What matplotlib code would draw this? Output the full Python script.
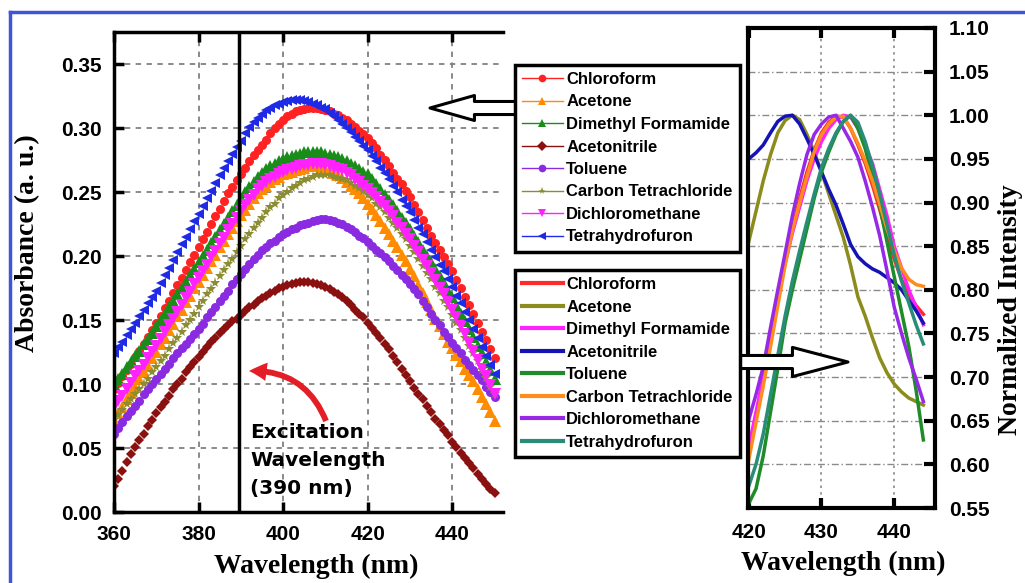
import matplotlib
matplotlib.use('Agg')
import matplotlib.pyplot as plt
from matplotlib.lines import Line2D
from matplotlib.patches import FancyArrowPatch
from matplotlib.ticker import FormatStrFormatter

plt.rcParams['font.family'] = ['Liberation Sans', 'DejaVu Sans']
plt.rcParams['font.weight'] = 'bold'

solvents = ['Chloroform', 'Acetone', 'Dimethyl Formamide', 'Acetonitrile',
            'Toluene', 'Carbon Tetrachloride', 'Dichloromethane', 'Tetrahydrofuron']

# absorbance spectra, 360-450 nm every 1 nm
wl_abs = list(range(360, 451))

abs_chl = [.096, .101, .106, .111, .116, .121, .126, .131, .137, .142,
           .148, .153, .159, .165, .171, .177, .183, .189, .195, .201,
           .207, .213, .219, .225, .231, .237, .243, .249, .254, .259,
           .264, .269, .274, .279, .283, .287, .291, .296, .300, .303,
           .306, .309, .311, .313, .314, .315, .316, .316, .316, .315,
           .314, .313, .311, .310, .308, .306, .303, .301, .298, .295,
           .292, .288, .284, .279, .275, .270, .265, .260, .256, .251,
           .246, .240, .234, .228, .222, .216, .210, .205, .199, .194,
           .188, .181, .175, .168, .162, .155, .148, .141, .134, .127,
           .120]
abs_ace = [.072, .077, .082, .088, .093, .098, .104, .109, .114, .120,
           .125, .131, .136, .142, .147, .153, .158, .164, .169, .175,
           .180, .185, .191, .196, .201, .207, .212, .217, .222, .227,
           .232, .236, .241, .245, .249, .252, .255, .258, .260, .262,
           .264, .265, .266, .267, .268, .269, .270, .270, .270, .269,
           .268, .267, .265, .263, .261, .258, .255, .252, .249, .245,
           .241, .237, .232, .227, .222, .217, .212, .207, .201, .196,
           .190, .184, .177, .171, .164, .158, .151, .145, .139, .133,
           .128, .123, .118, .112, .107, .102, .096, .090, .084, .078,
           .071]
abs_dmf = [.100, .104, .108, .113, .117, .122, .126, .131, .135, .140,
           .145, .150, .155, .160, .165, .170, .175, .180, .185, .190,
           .195, .200, .205, .210, .215, .220, .225, .230, .235, .240,
           .245, .250, .254, .258, .262, .265, .268, .270, .272, .274,
           .276, .277, .278, .279, .280, .281, .281, .281, .281, .281,
           .280, .279, .278, .277, .276, .274, .272, .270, .268, .266,
           .264, .260, .256, .252, .248, .244, .240, .235, .230, .226,
           .221, .216, .211, .205, .200, .195, .190, .184, .179, .173,
           .168, .162, .155, .149, .143, .137, .130, .124, .117, .111,
           .104]
abs_acn = [.020, .026, .032, .039, .045, .051, .056, .061, .067, .072,
           .077, .082, .086, .091, .096, .100, .104, .109, .113, .117,
           .121, .125, .129, .133, .136, .140, .143, .146, .149, .151,
           .154, .157, .160, .162, .165, .167, .169, .171, .173, .175,
           .176, .177, .178, .179, .180, .180, .180, .179, .178, .177,
           .176, .174, .172, .170, .168, .165, .162, .158, .155, .152,
           .148, .144, .140, .136, .131, .127, .122, .117, .112, .107,
           .102, .097, .092, .088, .083, .078, .073, .069, .064, .060,
           .055, .051, .046, .042, .038, .034, .030, .026, .022, .018,
           .015]
abs_tol = [.061, .066, .070, .075, .079, .083, .087, .092, .096, .100,
           .104, .108, .112, .116, .120, .124, .128, .131, .135, .139,
           .143, .147, .152, .156, .160, .165, .169, .173, .178, .182,
           .186, .190, .194, .198, .201, .205, .207, .210, .212, .215,
           .217, .219, .221, .222, .224, .225, .226, .227, .228, .229,
           .229, .228, .227, .226, .225, .223, .221, .219, .216, .214,
           .211, .208, .205, .202, .199, .196, .192, .189, .185, .182,
           .178, .174, .170, .165, .160, .155, .150, .146, .141, .137,
           .132, .128, .124, .119, .115, .111, .107, .103, .098, .094,
           .090]
abs_ccl = [.072, .076, .080, .084, .088, .092, .096, .100, .104, .109,
           .113, .118, .122, .127, .132, .136, .141, .146, .150, .155,
           .160, .165, .170, .174, .179, .184, .189, .194, .198, .203,
           .208, .213, .217, .222, .226, .230, .234, .238, .241, .245,
           .248, .250, .253, .255, .257, .259, .260, .262, .263, .263,
           .263, .263, .262, .261, .260, .259, .257, .255, .253, .251,
           .248, .245, .241, .238, .234, .230, .226, .222, .217, .213,
           .208, .203, .198, .192, .187, .182, .176, .171, .165, .160,
           .154, .148, .142, .136, .130, .124, .118, .111, .105, .098,
           .092]
abs_dcm = [.082, .087, .091, .096, .101, .106, .110, .115, .120, .125,
           .130, .135, .141, .146, .151, .156, .162, .167, .172, .178,
           .183, .188, .193, .199, .204, .209, .214, .220, .225, .230,
           .235, .240, .244, .248, .252, .255, .258, .260, .262, .264,
           .266, .267, .268, .269, .270, .271, .271, .272, .272, .272,
           .271, .270, .269, .268, .267, .265, .263, .260, .258, .255,
           .252, .249, .246, .242, .239, .235, .231, .226, .222, .217,
           .213, .208, .203, .197, .192, .187, .181, .175, .170, .164,
           .158, .152, .145, .139, .132, .126, .119, .112, .106, .099,
           .092]
abs_thf = [.124, .129, .133, .138, .143, .148, .153, .158, .163, .168,
           .173, .179, .185, .191, .197, .203, .209, .215, .221, .227,
           .233, .239, .245, .251, .257, .263, .269, .274, .280, .285,
           .290, .296, .301, .305, .308, .311, .314, .316, .318, .319,
           .320, .321, .322, .322, .322, .321, .320, .319, .318, .316,
           .315, .312, .309, .306, .303, .300, .297, .293, .290, .286,
           .283, .278, .274, .269, .265, .260, .255, .250, .244, .239,
           .234, .228, .222, .217, .211, .205, .199, .193, .188, .182,
           .176, .169, .163, .156, .150, .143, .136, .129, .122, .115,
           .108]

# normalized emission, 420-444 nm
wl_em = list(range(420, 445))
em_chl = [.615, .655, .700, .745, .790, .832, .870, .905, .935, .960, .980, .992, .999,
          .998, .985, .966, .945, .920, .892, .862, .835, .812, .795, .782, .772]
em_ace = [.855, .890, .925, .955, .980, .994, 1.000, .995, .978, .958, .935, .910, .885,
          .860, .828, .792, .770, .745, .722, .705, .692, .683, .676, .672, .668]
em_dmf = [.620, .660, .700, .745, .790, .830, .865, .895, .925, .950, .970, .985, .995,
          1.000, .998, .985, .965, .945, .915, .885, .850, .825, .800, .780, .760]
em_acn = [.950, .957, .966, .980, .993, .999, 1.000, .990, .973, .955, .935, .915, .897,
          .875, .852, .838, .830, .824, .820, .814, .808, .800, .788, .776, .762]
em_tol = [.555, .572, .610, .660, .710, .762, .800, .835, .870, .905, .935, .958, .978,
          .993, 1.000, .985, .962, .930, .896, .855, .815, .775, .735, .685, .628]
em_ccl = [.605, .648, .690, .735, .782, .828, .868, .900, .930, .958, .978, .990, .998,
          .999, .985, .968, .948, .925, .898, .870, .845, .825, .812, .806, .804]
em_dcm = [.651, .680, .712, .757, .800, .842, .885, .922, .955, .978, .990, .998, 1.000,
          .985, .970, .952, .925, .895, .862, .822, .780, .750, .722, .698, .672]
em_thf = [.575, .600, .635, .680, .725, .770, .810, .845, .878, .910, .940, .962, .980,
          .993, 1.000, .992, .970, .942, .910, .875, .840, .810, .785, .760, .738]

abs_data = [abs_chl, abs_ace, abs_dmf, abs_acn, abs_tol, abs_ccl, abs_dcm, abs_thf]
em_data = [em_chl, em_ace, em_dmf, em_acn, em_tol, em_ccl, em_dcm, em_thf]

abs_colors = ['#ff2222', '#ff8c00', '#1a8c1a', '#8b1010', '#8a2be2', '#8c8c32', '#ff22ff', '#1e2ae6']
abs_markers = ['o', '^', '^', 'D', 'o', '*', 'v', '<']
abs_ms = [6.5, 8, 8, 5.5, 6.5, 8, 8, 7.5]
em_colors = ['#ff2a2a', '#8c8c1e', '#ff22ff', '#1414b4', '#1e8c28', '#ff8c1e', '#9628e6', '#288c78']

W, H = 1025, 583


def fx(px):
    return px / W


def fy(py):
    return 1 - py / H


fig = plt.figure(figsize=(10.25, 5.83), dpi=100)
ax1 = fig.add_axes([fx(114), fy(512), 389 / W, 480 / H])
ax2 = fig.add_axes([fx(748), fy(508), 187 / W, 480 / H])

# ---- absorbance panel ----
for y, c, m, s in zip(abs_data, abs_colors, abs_markers, abs_ms):
    ax1.plot(wl_abs, y, linestyle='none', marker=m, ms=s, color=c, mew=0)
ax1.axvline(389.5, color='black', lw=2.5)

ax1.set_xlim(360, 452)
ax1.set_ylim(0, 0.375)
ax1.set_xticks([360, 380, 400, 420, 440])
ax1.set_yticks([0, .05, .10, .15, .20, .25, .30, .35])
ax1.yaxis.set_major_formatter(FormatStrFormatter('%.2f'))
ax1.set_axisbelow(True)
ax1.grid(True, color='#808080', linestyle=(0, (3, 3)), lw=1.3)
ax1.spines['right'].set_visible(False)
for sp in ['left', 'top', 'bottom']:
    ax1.spines[sp].set_linewidth(2.5)
ax1.tick_params(axis='both', direction='in', length=7, width=2.5, top=True,
                right=False, labelsize=15, pad=9)

serif = dict(fontfamily='Liberation Serif', fontsize=20, fontweight='bold')
ax1.set_xlabel('Wavelength (nm)', va='center', **serif)
ax1.xaxis.set_label_coords((316 - 114) / 389, (512 - 566) / 480)
ax1.set_ylabel('Absorbance (a. u.)', va='center', **serif)
ax1.yaxis.set_label_coords((28 - 114) / 389, (512 - 243) / 480)

# ---- emission panel ----
for y, c in zip(em_data, em_colors):
    ax2.plot(wl_em, y, color=c, lw=2.5)

ax2.set_xlim(419.9, 445.6)
ax2.set_ylim(0.55, 1.10)
ax2.set_xticks([420, 430, 440])
ax2.set_yticks([.55, .60, .65, .70, .75, .80, .85, .90, .95, 1.00, 1.05, 1.10])
ax2.yaxis.set_major_formatter(FormatStrFormatter('%.2f'))
ax2.set_axisbelow(True)
ax2.grid(axis='y', color='#8a8a8a', linestyle=(0, (5, 2, 1, 2)), lw=1.0)
ax2.grid(axis='x', color='#8a8a8a', linestyle=(0, (1.5, 2.5)), lw=1.2)
for sp in ax2.spines.values():
    sp.set_linewidth(3)
ax2.yaxis.tick_right()
ax2.tick_params(axis='y', direction='in', left=False, right=True, length=8,
                width=3, labelsize=15, pad=10)
ax2.tick_params(axis='x', direction='in', top=True, bottom=True, length=7,
                width=3, labelsize=15, pad=11)
ax2.set_xlabel('Wavelength (nm)', va='center', **serif)
ax2.xaxis.set_label_coords((843 - 748) / 187, (508 - 563) / 480)
ax2.yaxis.set_label_position('right')
ax2.set_ylabel('Normalized Intensity', rotation=90, va='center', **serif)
ax2.yaxis.set_label_coords((1011 - 748) / 187, (508 - 310) / 480)

# ---- legends ----
h1 = [Line2D([0], [0], color=c, marker=m, ms=5.5, lw=1, mew=0)
      for c, m in zip(abs_colors, abs_markers)]
h2 = [Line2D([0], [0], color=c, lw=3) for c in em_colors]
leg_kw = dict(loc='upper left', borderaxespad=0, fontsize=12, frameon=True,
              fancybox=False, edgecolor='black', framealpha=1,
              labelspacing=0.45, handlelength=2.45, handletextpad=0.2, borderpad=0.42)
leg1 = fig.legend(h1, solvents, bbox_to_anchor=(fx(515), fy(65)), **leg_kw)
leg2 = fig.legend(h2, solvents, bbox_to_anchor=(fx(515), fy(270)), **leg_kw)
for lg in (leg1, leg2):
    lg.get_frame().set_linewidth(2.5)
    lg.set_zorder(5)

# ---- arrows and note ----
a1 = FancyArrowPatch((fx(520), fy(108)), (fx(430), fy(108)), transform=fig.transFigure,
                     arrowstyle='simple,head_length=1.6,head_width=0.9,tail_width=0.47',
                     mutation_scale=20, fc='white', ec='black', lw=2.2,
                     shrinkA=0, shrinkB=0, zorder=4)
a2 = FancyArrowPatch((fx(736), fy(362)), (fx(848), fy(362)), transform=fig.transFigure,
                     arrowstyle='simple,head_length=2.0,head_width=1.05,tail_width=0.47',
                     mutation_scale=20, fc='white', ec='black', lw=2.2,
                     shrinkA=0, shrinkB=0, zorder=4)
a3 = FancyArrowPatch((fx(326), fy(421)), (fx(249), fy(371)), transform=fig.transFigure,
                     connectionstyle='arc3,rad=0.35',
                     arrowstyle='simple,head_length=0.9,head_width=0.95,tail_width=0.3',
                     mutation_scale=14, color='#e41e26', lw=0,
                     shrinkA=0, shrinkB=0, zorder=4)
for a in (a1, a2, a3):
    fig.add_artist(a)

fig.text(fx(250), fy(423), 'Excitation\nWavelength\n(390 nm)', fontfamily='DejaVu Sans',
         fontsize=14.5, fontweight='bold', va='top', ha='left', linespacing=1.6)

# blue frame
fig.add_artist(Line2D([fx(10), 1], [fy(12), fy(12)], transform=fig.transFigure,
                      color='#4055d5', lw=2.5))
fig.add_artist(Line2D([fx(10), fx(10)], [fy(12), 0], transform=fig.transFigure,
                      color='#4055d5', lw=2.5))

fig.savefig('out.png', dpi=100)
